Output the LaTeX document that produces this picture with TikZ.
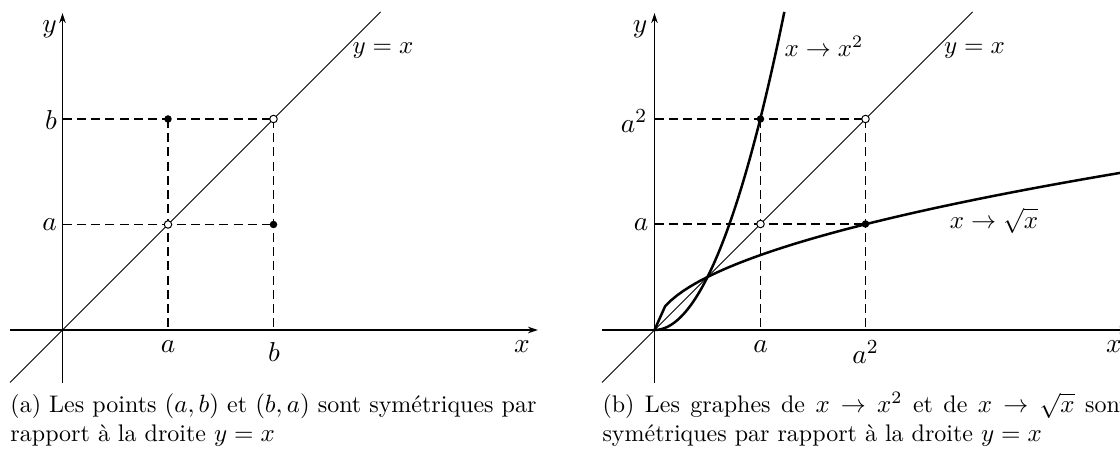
\documentclass[tikz,border=0pt]{standalone}
\usetikzlibrary{arrows.meta}
\begin{document}
\begin{tikzpicture}[x=0.4pt,y=-0.4pt,
  axis/.style={line width=0.5pt,-{Stealth[length=4pt,width=2.6pt]}},
  diag/.style={line width=0.4pt},
  guide/.style={line width=0.5pt,dash pattern=on 3.6pt off 2.1pt},
  curve/.style={line width=1pt},
  lab/.style={inner sep=0pt,font=\fontsize{11.2}{13}\selectfont},
  flab/.style={inner sep=0pt,font=\fontsize{10}{12}\selectfont},
  captext/.style={inner sep=0pt,anchor=base west,text width=210.4pt,align=justify,font=\fontsize{9.6}{11.6}\selectfont},
  full/.style={circle,fill=black,inner sep=0pt,minimum size=3pt},
  hollow/.style={circle,draw=black,fill=white,line width=0.4pt,inner sep=0pt,minimum size=3pt}]
\useasboundingbox (0,0) rectangle (1120,451);
\clip (0,0) rectangle (1120,451);

% ---------- left panel ----------
\coordinate (O1) at (62.5,330);
\coordinate (X1s) at (10,330);
\coordinate (X1e) at (538,330);
\coordinate (Y1s) at (62.5,383);
\coordinate (Y1e) at (62.5,13);
\coordinate (D1s) at (10,382.5);
\coordinate (D1e) at (380.5,12);
\coordinate (Y1b) at (62.5,119);
\coordinate (Y1a) at (62.5,224.5);
\coordinate (X1a) at (168,330);
\coordinate (X1b) at (273.5,330);

\draw[guide] (Y1b) -- (273.5,119);
\draw[guide] (Y1a) -- (273.5,224.5);
\draw[guide] (168,119) -- (X1a);
\draw[guide] (273.5,119) -- (X1b);
\draw[diag] (D1s) -- (D1e);
\draw[axis] (X1s) -- (X1e);
\draw[axis] (Y1s) -- (Y1e);

\node[full] (pab) at (168,119) {};
\node[full] (pba) at (273.5,224.5) {};
\node[hollow] (paa) at (168,224.5) {};
\node[hollow] (pbb) at (273.5,119) {};

\node[lab] (ly1) at (49.6,29) {$y$};
\node[lab] (lx1) at (522,347) {$x$};
\node[flab] (lyx1) at (383,51) {$y=x$};
\node[lab] (lb1) at (51,120.5) {$b$};
\node[lab] (la1) at (49.6,225) {$a$};
\node[lab] (lax1) at (168,347) {$a$};
\node[lab] (lbx1) at (274,352) {$b$};

\node[captext] (capa) at (10,413) {(a) Les points $(a,b)$ et $(b,a)$ sont symétriques par\linebreak rapport à la droite $y=x$};

% ---------- right panel ----------
\coordinate (O2) at (654.5,330);
\coordinate (X2s) at (602,330);
\coordinate (X2e) at (1129.5,330);
\coordinate (Y2s) at (654.5,383);
\coordinate (Y2e) at (654.5,13);
\coordinate (D2s) at (602,382.5);
\coordinate (D2e) at (972.5,12);
\coordinate (Y2b) at (654.5,119);
\coordinate (Y2a) at (654.5,224);
\coordinate (X2a) at (760.5,330);
\coordinate (X2b) at (865.5,330);

\draw[guide] (Y2b) -- (865.5,119);
\draw[guide] (Y2a) -- (865.5,224);
\draw[guide] (760.5,119) -- (X2a);
\draw[guide] (865.5,119) -- (X2b);
\draw[diag] (D2s) -- (D2e);
\draw[axis] (X2s) -- (X2e);
\draw[axis] (Y2s) -- (Y2e);

\begin{scope}[shift={(654.5,330)},x=21.2pt,y=21.2pt]
  \draw[curve] plot[domain=0:2.45,samples=60] (\x,{\x*\x});
  \draw[curve] (0,0) -- plot[domain=0.2:9,samples=80] (\x,{sqrt(\x)});
\end{scope}

\node[full] (qaa2) at (760.5,119) {};
\node[full] (qa2a) at (865.5,224) {};
\node[hollow] (qaa) at (760.5,224) {};
\node[hollow] (qbb) at (865.5,119) {};

\node[lab] (ly2) at (640,29) {$y$};
\node[lab] (lx2) at (1114,347) {$x$};
\node[flab] (lyx2) at (974.5,51) {$y=x$};
\node[flab] (lsq) at (824,46) {$x\to x^2$};
\node[flab] (lrt) at (994,221) {$x\to\sqrt{x}$};
\node[lab] (lb2) at (634,121) {$a^2$};
\node[lab] (la2) at (641,225) {$a$};
\node[lab] (lax2) at (760.5,347) {$a$};
\node[lab] (lbx2) at (865.5,352) {$a^2$};

\node[captext] (capb) at (602,413) {(b) Les graphes de $x\to x^2$ et de $x\to\sqrt{x}$ sont\linebreak symétriques par rapport à la droite $y=x$};
\end{tikzpicture}
\end{document}
